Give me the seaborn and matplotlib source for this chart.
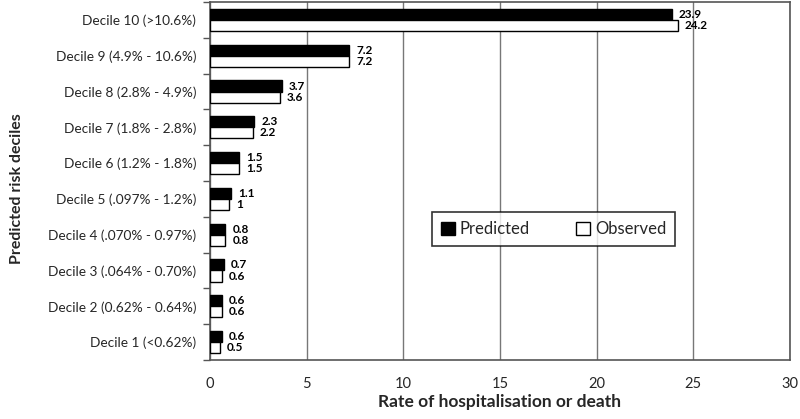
import matplotlib
matplotlib.use("Agg")
import matplotlib.pyplot as plt
import seaborn as sns
import pandas as pd
import numpy as np

categories = ["Decile 10 (>10.6%)", "Decile 9 (4.9% - 10.6%)", "Decile 8 (2.8% - 4.9%)",
              "Decile 7 (1.8% - 2.8%)", "Decile 6 (1.2% - 1.8%)", "Decile 5 (.097% - 1.2%)",
              "Decile 4 (.070% - 0.97%)", "Decile 3 (.064% - 0.70%)", "Decile 2 (0.62% - 0.64%)",
              "Decile 1 (<0.62%)"]
predicted = [23.9, 7.2, 3.7, 2.3, 1.5, 1.1, 0.8, 0.7, 0.6, 0.6]
observed = [24.2, 7.2, 3.6, 2.2, 1.5, 1.0, 0.8, 0.6, 0.6, 0.5]
predicted_lbl = ["23.9", "7.2", "3.7", "2.3", "1.5", "1.1", "0.8", "0.7", "0.6", "0.6"]
observed_lbl = ["24.2", "7.2", "3.6", "2.2", "1.5", "1", "0.8", "0.6", "0.6", "0.5"]
series = ["Predicted", "Observed"]
xticks = [0, 5, 10, 15, 20, 25, 30]

sns.set_theme(style="white")
plt.rcParams["font.family"] = ["Lato", "DejaVu Sans"]

df = pd.DataFrame({
    "cat": categories * 2,
    "val": predicted + observed,
    "series": [series[0]] * len(categories) + [series[1]] * len(categories),
})

fig = plt.figure(figsize=(8, 4.19), dpi=100)
ax = fig.add_axes([0.2625, 0.141, 0.725, 0.854])
sns.barplot(data=df, y="cat", x="val", hue="series", orient="h",
            palette=["black", "white"], edgecolor="black", linewidth=1.0,
            width=0.62, ax=ax, zorder=3, errorbar=None)

# value labels
for cont, labels in zip(ax.containers, [predicted_lbl, observed_lbl]):
    ax.bar_label(cont, labels=labels, padding=5, fontsize=8.5, color="black",
                 fontweight="bold")

ax.set_xlim(0, 30)
ax.set_xticks(xticks)
ax.set_xticklabels([str(t) for t in xticks], fontsize=10.5)
ax.tick_params(axis="x", length=0, pad=12)
ax.tick_params(axis="y", length=0, pad=10, labelsize=9.8)
ax.set_yticks(np.arange(-0.5, len(categories), 1), minor=True)
ax.tick_params(axis="y", which="minor", length=5, color="#555555", width=1, left=True)
ax.xaxis.grid(True, color="#777777", linewidth=1)
ax.yaxis.grid(False)
ax.set_axisbelow(True)
for s in ax.spines.values():
    s.set_color("#555555")
    s.set_linewidth(1.2)

ax.set_xlabel("Rate of hospitalisation or death", fontsize=12.5, fontweight="bold")
ax.xaxis.set_label_coords(0.5, -0.095)
ax.set_ylabel("Predicted risk deciles", fontsize=11.5, fontweight="bold")
ax.yaxis.set_label_coords(-0.32, 0.48)

leg = ax.legend(loc="upper left", bbox_to_anchor=(0.383, 0.413), ncol=2, frameon=True,
                fancybox=False, edgecolor="black", fontsize=12, handlelength=0.8,
                handleheight=0.8, handletextpad=0.3, columnspacing=2.8, borderpad=0.55,
                borderaxespad=0)
leg.get_frame().set_linewidth(1.2)

fig.savefig("out.png", dpi=100)
